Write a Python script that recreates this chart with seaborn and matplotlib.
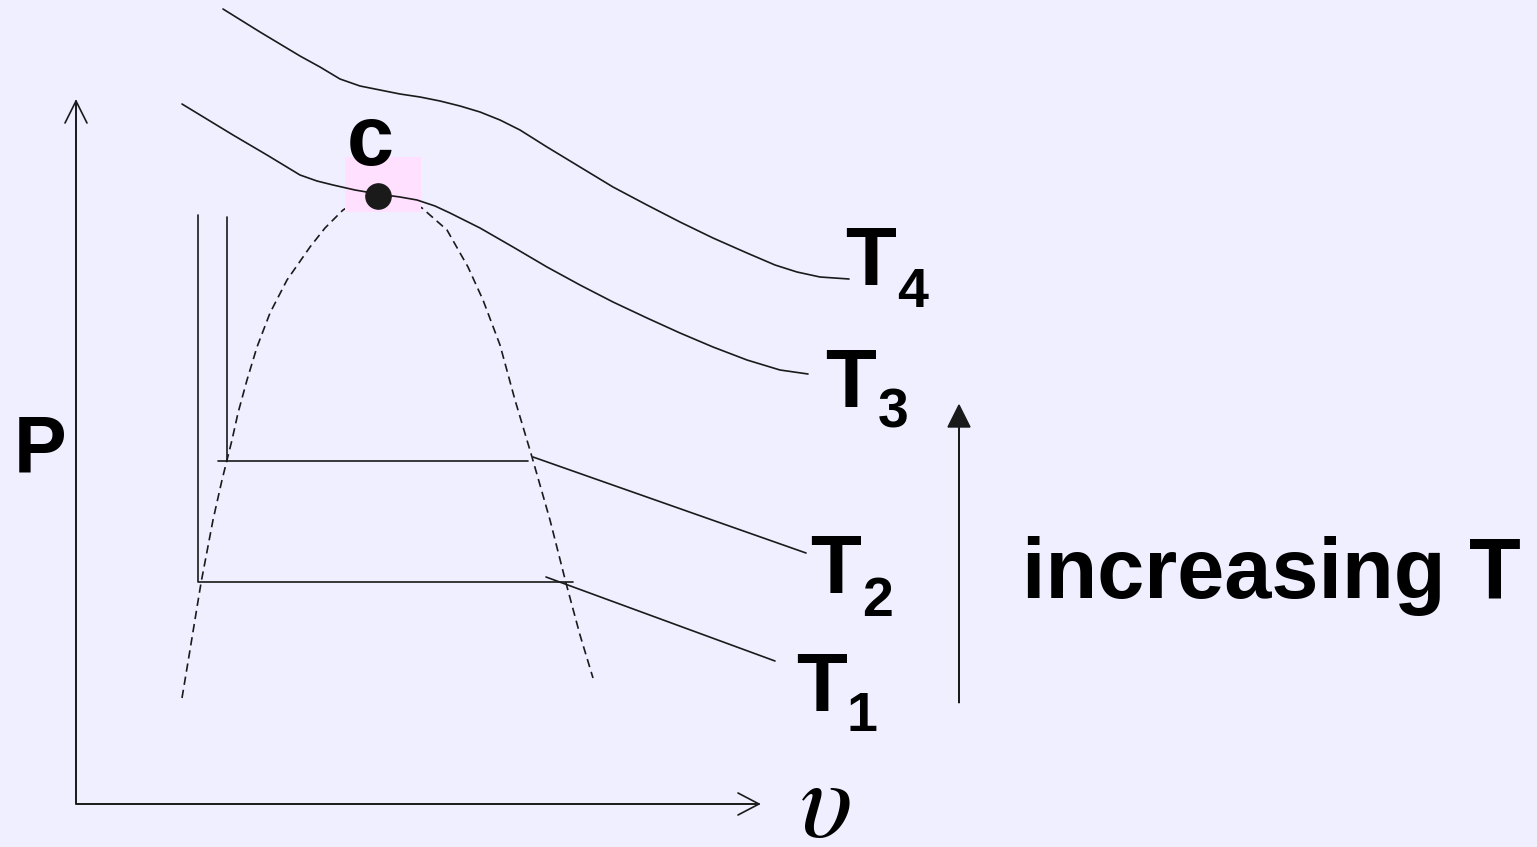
import numpy as np
import matplotlib
matplotlib.use("Agg")
import matplotlib.pyplot as plt
from matplotlib.patches import Rectangle
import seaborn as sns

# P-v diagram, all positions in picture pixels (x right, y down)
t4_x = [223, 260, 300, 320, 340, 360, 380, 400, 420, 440, 460, 480, 500, 520,
        547, 580, 613, 647, 680, 713, 747, 775, 797, 820, 849]
t4_y = [9, 32, 56, 67, 79, 86, 90, 94, 97, 101, 106, 112, 120, 130,
        147, 167, 187, 205, 222, 238, 253, 265, 272, 277, 279]

t3_x = [182, 233, 267, 300, 317, 333, 355, 378, 400, 417, 435, 450, 470, 480,
        513, 547, 580, 613, 647, 680, 713, 747, 780, 808]
t3_y = [104, 135, 155, 175, 181, 185, 190, 194, 197, 200, 206, 213, 223, 228,
        247, 267, 285, 302, 318, 333, 347, 360, 370, 374]

dome_x = [182, 190, 201, 213, 222, 227, 232, 238, 247, 257, 270, 287, 310, 325, 343, 360, 378,
          395, 410, 422, 447, 468, 483, 500, 515, 532, 550, 566, 580, 593]
dome_y = [698, 650, 583, 520, 480, 460, 440, 413, 380, 347, 313, 280, 247, 228, 210, 200, 196,
          197, 202, 208, 230, 267, 300, 345, 400, 457, 520, 583, 635, 678]

t1_liq_x, t1_liq_y = [198, 198, 573], [215, 582, 582]
t1_gas_x, t1_gas_y = [546, 775], [577, 661]
t2_liq_x, t2_liq_y = [227, 227], [217, 461]
t2_flat_x, t2_flat_y = [218, 528], [461, 461]
t2_gas_x, t2_gas_y = [533, 806], [457, 553]

crit_x, crit_y = [378], [196]

p_axis_x, p_axis_y = [76, 76, 759], [101, 804, 804]
p_head_x, p_head_y = [65, 76, 87], [123, 101, 123]
v_head_x, v_head_y = [738, 759, 738], [793, 804, 815]

labels = ["T", "T", "T", "T"]
subs = ["4", "3", "2", "1"]
label_x = [845, 825, 810, 796]
label_y = [285, 407, 593, 711]
sub_x = [897, 878, 862, 846]
sub_y = [307, 427, 616, 731]

bg = "#EFEFFF"
sns.set_theme(style="white")
plt.rcParams["font.family"] = ["Liberation Sans", "DejaVu Sans"]
plt.rcParams["text.color"] = "black"

fig = plt.figure(figsize=(15.37, 8.47), dpi=100, facecolor=bg)
ax = fig.add_axes([0, 0, 1, 1])
ax.set_facecolor(bg)
ax.set_xlim(0, 1537)
ax.set_ylim(847, 0)
ax.axis("off")

# axes of the diagram
sns.lineplot(x=p_axis_x, y=p_axis_y, sort=False, estimator=None, color="k", lw=1.4, ax=ax)
sns.lineplot(x=p_head_x, y=p_head_y, sort=False, estimator=None, color="k", lw=1.2, ax=ax)
sns.lineplot(x=v_head_x, y=v_head_y, sort=False, estimator=None, color="k", lw=1.2, ax=ax)

# saturation dome
sns.lineplot(x=dome_x, y=dome_y, sort=False, estimator=None, color="k", lw=1.2,
             linestyle=(0, (5, 3)), ax=ax)

# highlight around critical point
ax.add_patch(Rectangle((345, 157), 76, 55, facecolor="#FFE0FF", edgecolor="none", zorder=3))

# isotherms
for xs, ys in [(t4_x, t4_y), (t3_x, t3_y), (t1_liq_x, t1_liq_y), (t1_gas_x, t1_gas_y),
               (t2_liq_x, t2_liq_y), (t2_flat_x, t2_flat_y), (t2_gas_x, t2_gas_y)]:
    sns.lineplot(x=xs, y=ys, sort=False, estimator=None, color="k", lw=1.2, ax=ax)
for line in ax.lines[-7:]:
    line.set_zorder(4)
    line.set_solid_joinstyle("round")

ax.scatter(crit_x, crit_y, s=330, color="k", zorder=5)
ax.text(370, 165, "c", fontsize=61, fontweight="bold", ha="center", va="baseline", zorder=6)

for t, s, lx, ly, sx, sy in zip(labels, subs, label_x, label_y, sub_x, sub_y):
    ax.text(lx, ly, t, fontsize=60, fontweight="bold", ha="left", va="baseline")
    ax.text(sx, sy, s, fontsize=40, fontweight="bold", ha="left", va="baseline")

ax.text(14, 472, "P", fontsize=57, fontweight="bold", ha="left", va="baseline")
ax.text(799, 837, r"$\upsilon$", fontsize=80, ha="left", va="baseline", math_fontfamily="stix")

ax.arrow(959, 703, 0, -298, head_width=22, head_length=22, length_includes_head=True,
         fc="k", ec="k", lw=1.0)
ax.text(1022, 598, "increasing T", fontsize=61, fontweight="bold", ha="left", va="baseline")

fig.savefig("out.png", dpi=100, facecolor=bg)
